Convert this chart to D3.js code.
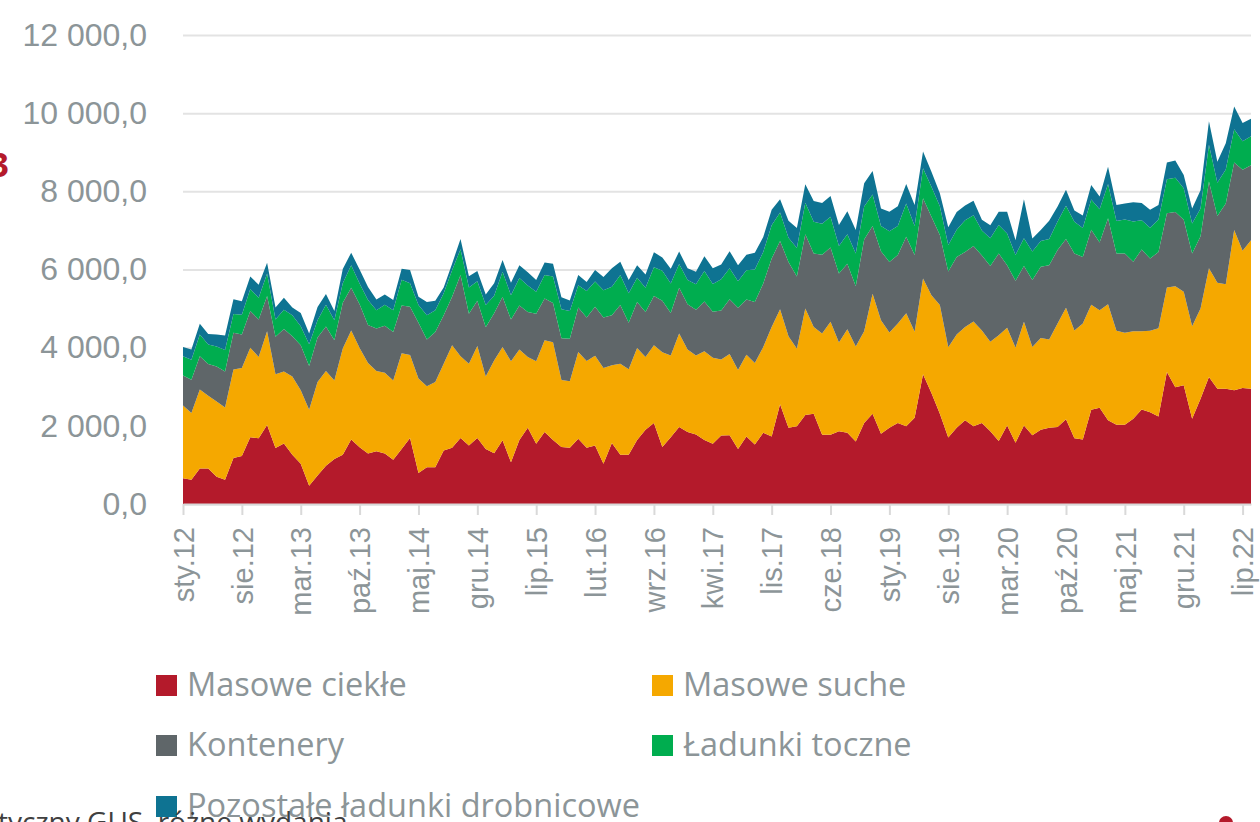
<!DOCTYPE html>
<html>
<head>
<meta charset="utf-8">
<script src="https://cdn.jsdelivr.net/npm/d3@7"></script>
<style>
  body { margin: 0; background: #fff; }
  svg { display: block; font-family: 'Open Sans', sans-serif; }
  .eje text { fill: #8c9598; font-size: 32px; }
  .ejex text { font-size: 29px; }
</style>
</head>
<body>
<div id="graf"></div>
<script>
// I. Datos (tys. ton, miesięcznie od sty.12 do sie.22)
miesiace = ['sty', 'lut', 'mar', 'kwi', 'maj', 'cze', 'lip', 'sie', 'wrz', 'paź', 'lis', 'gru']

masoweCiekle = [
  660, 620, 910, 910, 700, 620, 1180, 1230, 1710, 1680, 2020, 1430, 1550, 1260, 1030, 470,
  730, 980, 1150, 1260, 1650, 1450, 1290, 1350, 1290, 1130, 1410, 1690, 790, 940, 940, 1370,
  1440, 1690, 1500, 1690, 1410, 1300, 1630, 1070, 1640, 1950, 1540, 1840, 1640, 1460, 1440, 1670,
  1440, 1500, 1030, 1560, 1260, 1260, 1640, 1900, 2070, 1460, 1710, 1970, 1840, 1780, 1640, 1540,
  1750, 1760, 1410, 1730, 1520, 1820, 1730, 2550, 1950, 1990, 2280, 2310, 1770, 1770, 1860, 1820,
  1600, 2070, 2310, 1800, 1950, 2070, 1990, 2210, 3320, 2840, 2310, 1700, 1950, 2140, 1990, 2070,
  1860, 1610, 2010, 1570, 2010, 1760, 1900, 1950, 1970, 2170, 1680, 1650, 2410, 2460, 2140, 2030,
  2030, 2180, 2420, 2350, 2240, 3380, 2990, 3040, 2180, 2690, 3250, 2950, 2950, 2910, 2970, 2950
]

masoweSuche = [
  1860, 1710, 2020, 1860, 1920, 1850, 2260, 2250, 2290, 2080, 2400, 1890, 1840, 2000, 1880, 1940,
  2390, 2420, 2010, 2720, 2790, 2540, 2320, 2050, 2070, 2030, 2450, 2120, 2420, 2070, 2180, 2220,
  2620, 2090, 2090, 2350, 1850, 2370, 2390, 2580, 2310, 1810, 2110, 2350, 2500, 1710, 1700, 2220,
  2220, 2290, 2450, 1990, 2330, 2190, 2350, 1860, 1990, 2420, 2090, 2390, 2110, 2020, 2270, 2200,
  1950, 2080, 2020, 2090, 2090, 2200, 2800, 2430, 2340, 1980, 2720, 2220, 2590, 2890, 2270, 2650,
  2430, 2350, 3070, 2900, 2440, 2550, 2890, 2200, 2450, 2500, 2780, 2310, 2390, 2390, 2680, 2370,
  2290, 2710, 2500, 2430, 2650, 2260, 2350, 2260, 2650, 2850, 2760, 2970, 2690, 2500, 2970, 2400,
  2350, 2240, 2000, 2080, 2260, 2160, 2580, 2390, 2370, 2310, 2780, 2710, 2670, 4100, 3510, 3800
]

kontenery = [
  770, 850, 850, 810, 900, 920, 940, 860, 940, 960, 900, 960, 1090, 1030, 1150, 1120,
  1140, 1140, 1030, 1170, 1090, 1120, 970, 1090, 1200, 1240, 1220, 1240, 1430, 1200, 1280, 1240,
  1240, 2080, 1280, 1160, 1260, 1210, 1280, 1070, 1130, 1150, 1220, 1070, 1000, 1070, 1090, 1140,
  1110, 1260, 1290, 1280, 1500, 1190, 1180, 1150, 1260, 1320, 1090, 1170, 1160, 1170, 1270, 1180,
  1250, 1400, 1590, 1410, 1560, 1620, 1750, 1750, 1900, 1850, 1900, 1880, 2020, 1900, 1770, 1680,
  1540, 2350, 1730, 1770, 1800, 1750, 1960, 1960, 2050, 2010, 1790, 1940, 1980, 1920, 1930, 1920,
  1940, 2090, 1600, 1710, 1430, 1710, 1820, 1900, 1880, 1760, 1970, 1700, 1920, 1730, 2200, 1980,
  2030, 1780, 2090, 1850, 1950, 1900, 1900, 1840, 1860, 1850, 2220, 1710, 2070, 1730, 2070, 1920
]

ladunkiToczne = [
  490, 510, 560, 500, 510, 550, 480, 500, 560, 560, 580, 440, 490, 540, 490, 560,
  440, 560, 510, 500, 580, 530, 640, 470, 540, 560, 660, 600, 450, 620, 560, 560,
  680, 660, 670, 500, 570, 450, 640, 620, 700, 680, 560, 600, 680, 740, 710, 570,
  680, 640, 700, 730, 770, 750, 620, 620, 740, 770, 750, 610, 620, 650, 780, 710,
  800, 790, 680, 750, 830, 810, 850, 730, 620, 730, 810, 810, 790, 790, 700, 750,
  840, 840, 810, 640, 790, 740, 850, 740, 770, 770, 740, 680, 700, 810, 790, 640,
  710, 730, 810, 660, 710, 730, 660, 670, 730, 850, 810, 740, 770, 850, 880, 830,
  870, 1030, 750, 790, 830, 870, 880, 810, 770, 710, 940, 850, 870, 850, 730, 740
]

pozostaleDrobnicowe = [
  240, 260, 270, 270, 310, 370, 380, 350, 320, 330, 270, 310, 310, 200, 340, 270,
  340, 270, 240, 360, 320, 360, 330, 270, 260, 260, 280, 340, 210, 340, 240, 150,
  170, 260, 290, 260, 270, 320, 300, 320, 330, 340, 300, 320, 330, 310, 270, 260,
  230, 300, 340, 470, 340, 340, 320, 340, 380, 340, 380, 320, 300, 320, 380, 400,
  380, 440, 410, 400, 430, 380, 400, 340, 440, 510, 470, 530, 530, 530, 540, 590,
  600, 600, 600, 450, 500, 510, 500, 540, 430, 380, 330, 450, 450, 380, 370, 270,
  330, 340, 560, 380, 1000, 330, 280, 470, 380, 410, 290, 320, 370, 330, 440, 410,
  410, 490, 440, 460, 370, 430, 440, 340, 380, 470, 600, 540, 670, 580, 470, 450
]

serie = ['Masowe ciekłe', 'Masowe suche', 'Kontenery', 'Ładunki toczne', 'Pozostałe ładunki drobnicowe']
colores = ['#b41a2b', '#f5a800', '#5f6669', '#00ad4f', '#0e7392']
ticksY = [0, 2000, 4000, 6000, 8000, 10000, 12000]

// etiquetas de meses: sty.12, lut.12, ...
etiquetas = masoweCiekle.map((d, i) => miesiace[i % 12] + '.' + (12 + Math.floor(i / 12)))

dataArray = etiquetas.map((m, i) => ({
  mes: m,
  'Masowe ciekłe': masoweCiekle[i],
  'Masowe suche': masoweSuche[i],
  'Kontenery': kontenery[i],
  'Ładunki toczne': ladunkiToczne[i],
  'Pozostałe ładunki drobnicowe': pozostaleDrobnicowe[i]
}))

// II. Configuración
ancho_total = 1260
alto_total = 822

svg = d3.select('#graf').append('svg')
        .attr('width', ancho_total)
        .attr('height', alto_total)

x = d3.scalePoint()
      .domain(etiquetas)
      .range([183, 1251])

y = d3.scaleLinear()
      .domain([0, 12000])
      .range([504, 35])

color = d3.scaleOrdinal()
          .domain(serie)
          .range(colores)

formato = d3.formatLocale({ decimal: ',', thousands: ' ', grouping: [3], currency: ['', ''] }).format(',.1f')

// gridlines + eje Y
yAxisGroup = svg.append('g')
                .attr('class', 'eje')
                .attr('transform', 'translate(183, 0)')
yAxisGroup.call(d3.axisLeft(y)
                  .tickValues(ticksY)
                  .tickSize(-(1251 - 183))
                  .tickPadding(36)
                  .tickFormat(formato))
yAxisGroup.select('.domain').remove()
yAxisGroup.selectAll('line')
          .attr('stroke', '#e3e3e3')
          .attr('stroke-width', 2)

// III. Áreas apiladas
stack = d3.stack().keys(serie)
capas = stack(dataArray)

area = d3.area()
         .x(d => x(d.data.mes))
         .y0(d => y(d[0]))
         .y1(d => y(d[1]))

svg.append('g')
   .selectAll('path')
   .data(capas)
   .enter()
   .append('path')
     .attr('d', area)
     .attr('fill', d => color(d.key))

// eje X
xAxisGroup = svg.append('g')
                .attr('class', 'eje ejex')
                .attr('transform', 'translate(0, 504)')
xAxisGroup.call(d3.axisBottom(x)
                  .tickValues(etiquetas.filter((d, i) => i % 7 == 0))
                  .tickSize(11)
                  .tickSizeOuter(0))
xAxisGroup.select('.domain')
          .attr('stroke', '#d9d9d9')
          .attr('stroke-width', 2)
xAxisGroup.selectAll('line')
          .attr('stroke', '#d9d9d9')
          .attr('stroke-width', 2)
xAxisGroup.selectAll('text')
          .attr('x', '-23px')
          .attr('y', '0px')
          .attr('dy', '0.35em')
          .attr('text-anchor', 'end')
          .attr('transform', 'rotate(-90)')

// IV. Leyenda
posLeyenda = [[156, 685], [652, 685], [156, 745], [652, 745], [156, 806]]
leyenda = svg.append('g')
             .selectAll('g')
             .data(serie)
             .enter()
             .append('g')
               .attr('transform', (d, i) => `translate(${ posLeyenda[i][0] }, ${ posLeyenda[i][1] })`)
leyenda.append('rect')
       .attr('x', 0)
       .attr('y', -10)
       .attr('width', 21)
       .attr('height', 21)
       .attr('fill', d => color(d))
leyenda.append('text')
       .attr('x', 31)
       .attr('dy', '0.35em')
       .style('font-size', '32.5px')
       .attr('fill', '#8c9598')
       .text(d => d)

// restos del documento recortado
svg.append('text')
   .attr('x', -2)
   .attr('y', 832)
   .style('font-size', '28px')
   .attr('fill', '#404040')
   .text('tyczny GUS, różne wydania')

svg.append('text')
   .attr('x', 9)
   .attr('y', 177)
   .attr('text-anchor', 'end')
   .style('font-size', '34px')
   .style('font-weight', 'bold')
   .attr('fill', '#b41a2b')
   .text('3')

svg.append('circle')
   .attr('cx', 1226)
   .attr('cy', 823)
   .attr('r', 7)
   .attr('fill', '#b41a2b')
</script>
</body>
</html>
